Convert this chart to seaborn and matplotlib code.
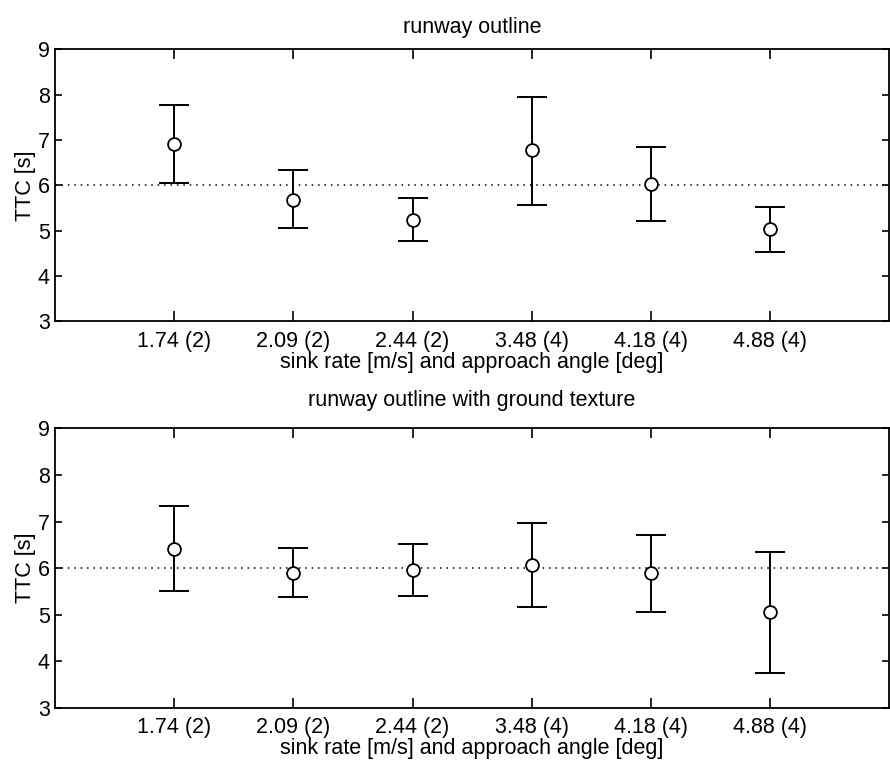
import matplotlib
matplotlib.use("Agg")
import matplotlib.pyplot as plt
import seaborn as sns
import pandas as pd

categories = ["1.74 (2)", "2.09 (2)", "2.44 (2)", "3.48 (4)", "4.18 (4)", "4.88 (4)"]

top_mean = [6.92, 5.68, 5.23, 6.78, 6.02, 5.03]
top_low = [6.04, 5.06, 4.76, 5.56, 5.22, 4.52]
top_high = [7.78, 6.33, 5.73, 7.96, 6.85, 5.53]

bot_mean = [6.41, 5.89, 5.96, 6.06, 5.89, 5.06]
bot_low = [5.50, 5.37, 5.40, 5.16, 5.05, 3.75]
bot_high = [7.33, 6.43, 6.52, 6.97, 6.71, 6.35]

reference_ttc = 6.0
titles = ["runway outline", "runway outline with ground texture"]
xlabel = "sink rate [m/s] and approach angle [deg]"
ylabel = "TTC [s]"

sns.set_style("white")
plt.rcParams["font.family"] = ["Liberation Sans", "DejaVu Sans"]
plt.rcParams["text.color"] = "black"
plt.rcParams["axes.labelcolor"] = "black"
plt.rcParams["xtick.color"] = "black"
plt.rcParams["ytick.color"] = "black"

FS = 15.5
fig = plt.figure(figsize=(8.9, 7.61), dpi=100)
ax1 = fig.add_axes([0.062, 0.578, 0.937, 0.357])
ax2 = fig.add_axes([0.062, 0.070, 0.937, 0.367])

panels = [(ax1, top_mean, top_low, top_high, titles[0], 12),
          (ax2, bot_mean, bot_low, bot_high, titles[1], 16)]

for ax, mean, low, high, title, tpad in panels:
    pos = list(range(1, len(categories) + 1))
    df = pd.DataFrame({"pos": pos, "mean": mean, "low": low, "high": high})
    ax.axhline(reference_ttc, ls=(0, (1, 3.2)), color="black", lw=1.1, zorder=1)
    ax.errorbar(df["pos"], df["mean"],
                yerr=[df["mean"] - df["low"], df["high"] - df["mean"]],
                fmt="none", ecolor="black", elinewidth=1.4, capsize=11,
                capthick=1.4, zorder=2)
    sns.scatterplot(data=df, x="pos", y="mean", ax=ax, marker="o", s=85,
                    facecolor="white", edgecolor="black", linewidth=1.3,
                    zorder=3)
    ax.set_xlim(0, 7)
    ax.set_ylim(3, 9)
    ax.set_xticks(pos)
    ax.set_xticklabels(categories)
    ax.set_yticks(range(3, 10))
    ax.set_title(title, fontsize=FS, pad=tpad, color="black")
    ax.set_xlabel(xlabel, fontsize=FS, labelpad=0, color="black")
    ax.set_ylabel(ylabel, fontsize=FS, labelpad=1, color="black")
    ax.tick_params(axis="x", direction="in", length=7, width=1.2,
                   top=True, bottom=True, labelsize=FS, pad=7,
                   color="black", labelcolor="black")
    ax.tick_params(axis="y", direction="in", length=5, width=1.2,
                   left=True, right=True, labelsize=FS, pad=4,
                   color="black", labelcolor="black")
    for sp in ax.spines.values():
        sp.set_visible(True)
        sp.set_color("black")
        sp.set_linewidth(1.3)
    ax.grid(False)

fig.savefig("out.png", dpi=100)
